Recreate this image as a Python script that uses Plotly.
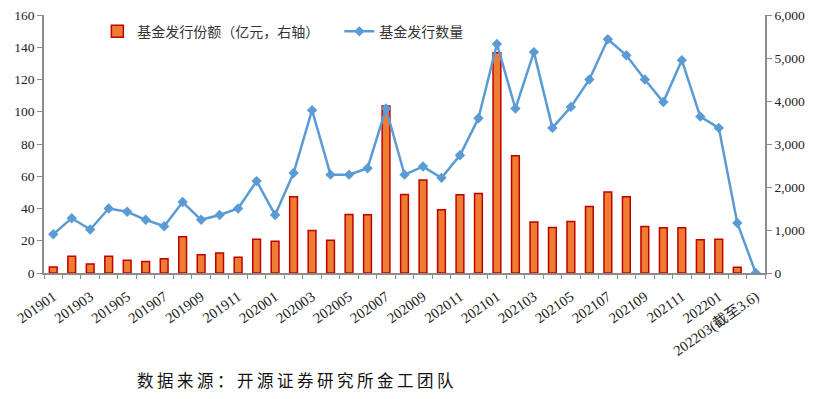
import plotly.graph_objects as go

months = ["201901","201902","201903","201904","201905","201906","201907","201908","201909","201910","201911","201912",
          "202001","202002","202003","202004","202005","202006","202007","202008","202009","202010","202011","202012",
          "202101","202102","202103","202104","202105","202106","202107","202108","202109","202110","202111","202112",
          "202201","202202","202203(截至3.6)"]

# 基金发行份额（亿元，右轴）
shares = [142, 388, 211, 388, 295, 265, 334, 845, 427, 466, 365, 782,
          736, 1774, 991, 760, 1363, 1356, 3885, 1827, 2161, 1472, 1820, 1851,
          5125, 2726, 1186, 1061, 1200, 1549, 1883, 1774, 1084, 1054, 1054, 775,
          782, 132, None]

# 基金发行数量
counts = [24, 34, 27, 40, 38, 33, 29, 44, 33, 36, 40, 57,
          36, 62, 101, 61, 61, 65, 102, 61, 66, 59, 73, 96,
          142, 102, 137, 90, 103, 120, 145, 135, 120, 106, 132, 97,
          90, 31, 0]

tick_text = [m if i % 2 == 0 else "" for i, m in enumerate(months)]

num_font = "Liberation Serif, Times New Roman, serif"
cjk_font = "Liberation Serif, Noto Sans CJK SC, serif"
axis_color = "#8c8c8c"

fig = go.Figure()
fig.add_trace(go.Bar(
    x=months, y=shares, name="基金发行份额（亿元，右轴）",
    marker=dict(color="#ED7D31", line=dict(color="#C00000", width=1.5)),
    width=0.42, yaxis="y",
))
fig.add_trace(go.Scatter(
    x=months, y=counts, name="基金发行数量", mode="lines+markers",
    line=dict(color="#5B9BD5", width=2.5),
    marker=dict(symbol="diamond", size=8, color="#5B9BD5"),
    yaxis="y2",
))

fig.update_layout(
    width=835, height=399,
    margin=dict(l=44, r=70, t=15, b=126),
    plot_bgcolor="white", paper_bgcolor="white",
    showlegend=True,
    legend=dict(orientation="h", x=0.074, y=0.935, xanchor="left", yanchor="middle",
                font=dict(family=cjk_font, size=14, color="#333"),
                bgcolor="rgba(0,0,0,0)", itemwidth=30, entrywidth=197),
    bargap=0.58,
    xaxis=dict(
        type="category", range=[-0.5, 38.5], automargin=False,
        tickmode="array", tickvals=months, ticktext=tick_text,
        tickangle=-35, tickson="boundaries", ticks="outside", ticklen=4,
        ticklabelstandoff=8,
        tickcolor=axis_color, showline=True, linecolor=axis_color, linewidth=1.5,
        showgrid=False, tickfont=dict(family=cjk_font, size=14.5, color="#222"),
    ),
    yaxis=dict(
        side="right", range=[0, 6000], tickvals=[0, 1000, 2000, 3000, 4000, 5000, 6000],
        tickformat=",", ticks="outside", ticklen=5, tickcolor=axis_color, automargin=False,
        showline=True, linecolor=axis_color, linewidth=1.5, showgrid=False, zeroline=False,
        tickfont=dict(family=num_font, size=13.5, color="#222"),
    ),
    yaxis2=dict(
        side="left", overlaying="y", range=[0, 160], tickvals=list(range(0, 161, 20)),
        ticks="outside", ticklen=5, tickcolor=axis_color, automargin=False,
        showline=True, linecolor=axis_color, linewidth=1.5, showgrid=False, zeroline=False,
        tickfont=dict(family=num_font, size=13.5, color="#222"),
    ),
    annotations=[dict(
        text='<span style="letter-spacing:3.5px">数据来源：开源证券研究所金工团队</span>',
        xref="paper", yref="paper",
        x=0.126, y=-0.42, xanchor="left", yanchor="middle", showarrow=False,
        font=dict(family=cjk_font, size=16.5, color="#111"),
    )],
)

fig.write_html("out.html", config={"displayModeBar": False},
               post_script="document.body.style.margin='0px';")
